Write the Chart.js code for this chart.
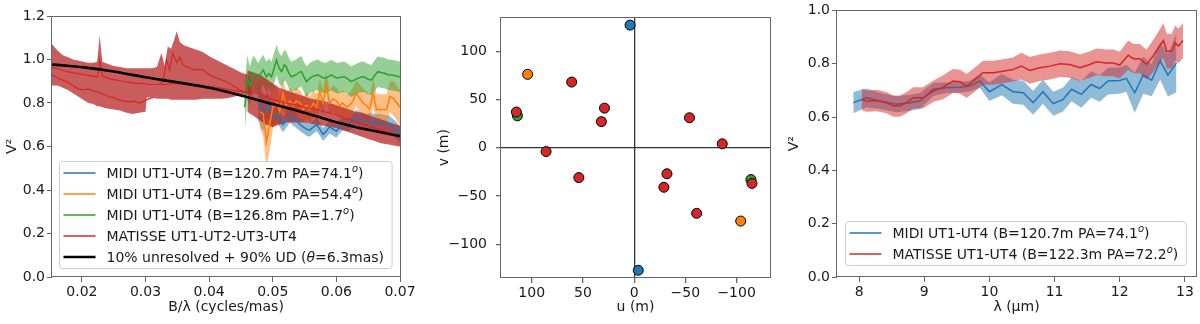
<!DOCTYPE html>
<html>
<head>
<meta charset="utf-8">
<script src="https://cdn.jsdelivr.net/npm/chart.js@4.4.0/dist/chart.umd.min.js"></script>
<style>
  html, body { margin: 0; padding: 0; background: #fff; }
  body { width: 1200px; height: 324px; position: relative; overflow: hidden; }
  .panel { position: absolute; top: 0; height: 324px; }
</style>
</head>
<body>
<div class="panel" style="left:0;width:420px"><canvas id="c1"></canvas></div>
<div class="panel" style="left:432px;width:344px"><canvas id="c2"></canvas></div>
<div class="panel" style="left:782px;width:418px"><canvas id="c3"></canvas></div>
<script>
// ---- panel 1 : V2 vs spatial frequency (cycles/mas) ----
const p1Ticks = [0.02, 0.03, 0.04, 0.05, 0.06, 0.07];
const p1YTicks = [0, 0.2, 0.4, 0.6, 0.8, 1.0, 1.2];

// MIDI UT1-UT4 B=120.7m
const midiAX = [0.0477,0.0481,0.0485,0.0489,0.0493,0.0497,0.0500,0.0504,0.0508,0.0512,0.0516,0.0521,0.0527,0.0532,0.0537,0.0543,0.0548,0.0553,0.0558,0.0564,0.0569,0.0574,0.0579,0.0584,0.0589,0.0595,0.0600,0.0605,0.0610,0.0616,0.0621,0.0626,0.0631,0.0637,0.0642,0.0647,0.0652,0.0660,0.0668,0.0676,0.0684,0.0692,0.0700];
const midiAV = [0.81,0.78,0.75,0.77,0.79,0.76,0.73,0.74,0.75,0.72,0.70,0.72,0.745,0.73,0.72,0.70,0.69,0.68,0.675,0.69,0.70,0.68,0.655,0.67,0.69,0.68,0.67,0.69,0.705,0.70,0.70,0.72,0.735,0.725,0.72,0.715,0.715,0.71,0.71,0.705,0.70,0.68,0.655];
const midiAErr = [0.09,0.09,0.08,0.07,0.06,0.05,0.045,0.04,0.04,0.035,0.035,0.035,0.035,0.035,0.035,0.03,0.03,0.03,0.03,0.03,0.03,0.03,0.03,0.03,0.03,0.03,0.03,0.03,0.03,0.03,0.03,0.03,0.035,0.035,0.035,0.035,0.04,0.04,0.04,0.04,0.04,0.04,0.04];

// MIDI UT1-UT4 B=129.6m
const midiBX = [0.0480,0.0485,0.0490,0.0495,0.0500,0.0506,0.0511,0.0516,0.0521,0.0527,0.0532,0.0537,0.0543,0.0548,0.0553,0.0558,0.0564,0.0569,0.0574,0.0579,0.0584,0.0589,0.0595,0.0600,0.0605,0.0610,0.0616,0.0621,0.0626,0.0631,0.0637,0.0642,0.0647,0.0652,0.0658,0.0663,0.0668,0.0673,0.0679,0.0684,0.0690,0.0695,0.0700];
const midiBV = [0.76,0.75,0.62,0.70,0.78,0.80,0.76,0.845,0.79,0.81,0.79,0.81,0.80,0.77,0.79,0.77,0.80,0.78,0.85,0.80,0.885,0.80,0.82,0.81,0.79,0.80,0.78,0.79,0.81,0.845,0.82,0.80,0.79,0.77,0.845,0.77,0.77,0.77,0.77,0.83,0.82,0.80,0.78];
const midiBErr = [0.08,0.10,0.12,0.12,0.10,0.08,0.07,0.07,0.06,0.06,0.06,0.06,0.06,0.06,0.06,0.06,0.06,0.06,0.06,0.06,0.06,0.06,0.06,0.06,0.06,0.06,0.06,0.06,0.06,0.06,0.065,0.065,0.065,0.065,0.065,0.07,0.07,0.07,0.07,0.07,0.08,0.08,0.08];

// MIDI UT1-UT4 B=126.8m
const midiCX = [0.0456,0.0460,0.0464,0.0469,0.0473,0.0477,0.0481,0.0485,0.0490,0.0494,0.0498,0.0502,0.0506,0.0510,0.0514,0.0518,0.0521,0.0525,0.0529,0.0533,0.0537,0.0541,0.0545,0.0549,0.0553,0.0557,0.0561,0.0566,0.0571,0.0576,0.0582,0.0587,0.0592,0.0597,0.0602,0.0608,0.0613,0.0618,0.0623,0.0628,0.0634,0.0639,0.0644,0.0649,0.0655,0.0660,0.0665,0.0670,0.0676,0.0681,0.0686,0.0693,0.0700];
const midiCV = [0.78,0.92,0.875,0.937,0.93,0.914,0.935,0.952,0.92,0.935,0.92,0.96,0.998,0.96,0.945,0.975,0.968,0.94,0.92,0.925,0.93,0.94,0.945,0.92,0.898,0.91,0.92,0.925,0.93,0.92,0.914,0.92,0.929,0.92,0.914,0.92,0.92,0.91,0.898,0.905,0.914,0.92,0.92,0.91,0.905,0.925,0.944,0.94,0.937,0.93,0.929,0.925,0.92];
const midiCErr = [0.11,0.1,0.09,0.08,0.075,0.07,0.07,0.07,0.07,0.07,0.07,0.07,0.07,0.07,0.07,0.07,0.07,0.07,0.07,0.07,0.07,0.07,0.07,0.07,0.07,0.07,0.07,0.07,0.07,0.07,0.07,0.07,0.07,0.07,0.07,0.07,0.07,0.07,0.07,0.07,0.07,0.07,0.07,0.07,0.07,0.07,0.07,0.07,0.07,0.07,0.07,0.07,0.07];

// MATISSE envelope (low frequencies)
const matEnvX = [0.0153,0.0162,0.0170,0.0178,0.0186,0.0194,0.0202,0.0210,0.0218,0.0224,0.0228,0.0232,0.0240,0.0250,0.0260,0.0270,0.0280,0.0290,0.0300,0.0302,0.0310,0.0318,0.0325,0.0330,0.0335,0.0340,0.0345,0.0349,0.0354,0.0360,0.0370,0.0380,0.0390,0.0400,0.0410,0.0420,0.0430,0.0440,0.0450,0.0460,0.0466];
const matEnvHi = [1.07,1.04,1.02,1.01,1.0,0.995,0.99,0.985,0.985,0.99,1.11,0.99,0.98,0.97,0.965,0.96,0.96,0.96,0.96,0.96,0.96,0.965,1.03,0.97,1.06,1.05,1.09,1.13,1.08,1.065,1.055,1.045,1.035,1.015,1.0,0.985,0.97,0.955,0.94,0.93,0.90];
const matEnvLo = [0.88,0.88,0.87,0.86,0.845,0.83,0.815,0.80,0.795,0.785,0.785,0.78,0.775,0.77,0.765,0.755,0.75,0.755,0.76,0.825,0.825,0.82,0.82,0.82,0.82,0.815,0.815,0.815,0.815,0.815,0.815,0.815,0.82,0.82,0.82,0.82,0.823,0.83,0.835,0.84,0.84];

// MATISSE lines
const matLowX = [0.0153,0.0162,0.0170,0.0178,0.0186,0.0194,0.0202,0.0210,0.0218,0.0226,0.0234,0.0242,0.0250,0.0258,0.0266,0.0274,0.0282,0.0290,0.0298,0.0306,0.0312];
const matLowV = [0.93,0.915,0.905,0.895,0.88,0.865,0.86,0.865,0.855,0.85,0.84,0.83,0.825,0.815,0.81,0.805,0.81,0.80,0.81,0.82,0.825];
const matMidX = [0.0153,0.0165,0.0175,0.0185,0.0195,0.0205,0.0215,0.0225,0.0228,0.0232,0.0245,0.0255,0.0265,0.0275,0.0285,0.0295,0.0305,0.0315,0.0325,0.0335,0.0345,0.0355,0.0365,0.0375,0.0385,0.0395,0.0405,0.0415,0.0425,0.0435,0.0445,0.0455,0.0466];
const matMidV = [0.965,0.955,0.945,0.94,0.935,0.93,0.925,0.92,1.0,0.925,0.91,0.905,0.90,0.895,0.89,0.89,0.885,0.885,0.885,0.885,0.89,0.885,0.885,0.88,0.88,0.875,0.875,0.87,0.865,0.86,0.855,0.85,0.845];
const matUpX = [0.0322,0.0328,0.0333,0.0338,0.0343,0.0349,0.0354,0.0359,0.0364,0.0370,0.0375,0.0382,0.0390,0.0398,0.0406,0.0416,0.0427,0.0437,0.0448,0.0458,0.0466];
const matUpV = [0.89,0.90,0.998,0.952,1.03,0.984,1.013,0.975,0.967,0.96,0.952,0.955,0.952,0.935,0.921,0.91,0.898,0.88,0.86,0.85,0.84];

// MATISSE long baselines
const matHiX = [0.0460,0.0470,0.0480,0.0490,0.0500,0.0510,0.0520,0.0530,0.0540,0.0550,0.0560,0.0570,0.0580,0.0590,0.0600,0.0610,0.0620,0.0630,0.0640,0.0650,0.0660,0.0670,0.0680,0.0690,0.0700];
const matHiV = [0.86,0.85,0.84,0.83,0.815,0.81,0.80,0.795,0.79,0.78,0.775,0.77,0.76,0.755,0.745,0.735,0.725,0.715,0.705,0.695,0.685,0.675,0.665,0.655,0.645];
const matHiUp = [0.95,0.94,0.93,0.91,0.89,0.87,0.86,0.85,0.84,0.83,0.82,0.815,0.81,0.80,0.79,0.78,0.77,0.76,0.755,0.745,0.735,0.725,0.715,0.705,0.695];
const matHiLo = [0.76,0.74,0.72,0.70,0.69,0.70,0.71,0.71,0.71,0.71,0.705,0.70,0.695,0.69,0.685,0.675,0.665,0.655,0.645,0.635,0.625,0.615,0.61,0.605,0.60];

// 10% unresolved + 90% UD model
const modelX = [0.0153,0.0175,0.02,0.025,0.03,0.035,0.04,0.045,0.05,0.055,0.06,0.065,0.07];
const modelV = [0.977,0.972,0.965,0.945,0.918,0.895,0.87,0.835,0.795,0.755,0.712,0.677,0.648];

// ---- panel 2 : uv coverage ----
const uvTicks = [-100, -50, 0, 50, 100];
const uvBlueU = [4, -4];
const uvBlueV = [127, -127];
const uvOrangeU = [104, -104];
const uvOrangeV = [76, -76];
const uvGreenU = [114, -114];
const uvGreenV = [33, -33];
const uvRedU = [115, 86, 54, 61, 29, 32, -54, -86, -32, -29, -61, -115];
const uvRedV = [37, -4, -31, 68, 41, 27, 31, 4, -27, -41, -68, -37];

// ---- panel 3 : V2 vs wavelength ----
const p3Ticks = [8, 9, 10, 11, 12, 13];
const p3YTicks = [0, 0.2, 0.4, 0.6, 0.8, 1.0];
const lamMidiX = [7.91,8.11,8.32,8.57,8.78,8.93,9.14,9.34,9.55,9.70,9.85,10.00,10.19,10.36,10.52,10.67,10.82,10.98,11.13,11.26,11.41,11.56,11.69,11.82,12.00,12.10,12.23,12.36,12.49,12.62,12.74,12.87];
const lamMidiV = [0.654,0.672,0.66,0.648,0.654,0.66,0.704,0.71,0.712,0.716,0.735,0.695,0.722,0.695,0.691,0.654,0.695,0.65,0.666,0.704,0.685,0.722,0.707,0.735,0.737,0.745,0.691,0.757,0.738,0.81,0.757,0.803];
const lamMidiErr = [0.04,0.035,0.03,0.03,0.03,0.03,0.025,0.02,0.02,0.02,0.025,0.035,0.04,0.045,0.045,0.045,0.045,0.045,0.045,0.045,0.05,0.05,0.05,0.05,0.05,0.05,0.075,0.07,0.06,0.07,0.08,0.11];
const lamMatX = [8.04,8.11,8.27,8.42,8.52,8.62,8.73,8.83,8.98,9.14,9.29,9.44,9.55,9.65,9.75,9.90,10.06,10.21,10.36,10.49,10.62,10.77,10.93,11.08,11.23,11.39,11.54,11.64,11.80,11.90,12.00,12.13,12.21,12.31,12.41,12.51,12.59,12.67,12.72,12.80,12.85,12.90,12.97];
const lamMatV = [0.666,0.66,0.662,0.654,0.641,0.641,0.654,0.672,0.672,0.697,0.712,0.735,0.732,0.716,0.735,0.766,0.766,0.772,0.778,0.791,0.775,0.785,0.791,0.80,0.797,0.785,0.797,0.807,0.803,0.803,0.795,0.832,0.819,0.819,0.797,0.828,0.859,0.887,0.847,0.847,0.878,0.866,0.887];
const lamMatErr = [0.04,0.04,0.04,0.04,0.04,0.04,0.04,0.04,0.04,0.04,0.045,0.045,0.045,0.045,0.045,0.045,0.045,0.045,0.045,0.05,0.05,0.05,0.05,0.05,0.05,0.05,0.05,0.05,0.05,0.05,0.05,0.055,0.055,0.055,0.055,0.06,0.06,0.065,0.065,0.065,0.065,0.065,0.065];

// colours (matplotlib tab10)
const C_BLUE = "#1f77b4", C_ORANGE = "#ff7f0e", C_GREEN = "#2ca02c", C_RED = "#d62728";

Chart.defaults.font.family = '"DejaVu Sans", sans-serif';
Chart.defaults.font.size = 14;
Chart.defaults.color = "#1a1a1a";

// helpers
const pts = (xs, ys) => xs.map((x, i) => ({ x: x, y: ys[i] }));
const plus = (ys, e) => ys.map((y, i) => y + e[i]);
const minus = (ys, e) => ys.map((y, i) => y - e[i]);

function band(xs, lo, hi, color, order) {
  return [
    { data: pts(xs, hi), borderWidth: 0, borderColor: "transparent", pointRadius: 0, fill: false, order: order },
    { data: pts(xs, lo), borderWidth: 0, borderColor: "transparent", pointRadius: 0, fill: "-1", backgroundColor: color, order: order }
  ];
}
function line(xs, ys, color, width, order) {
  return { data: pts(xs, ys), borderColor: color, borderWidth: width, pointRadius: 0, fill: false, order: order };
}

// full frame round the plot
const frame = {
  id: "frame",
  afterDraw(chart) {
    const a = chart.chartArea, ctx = chart.ctx;
    ctx.save();
    ctx.strokeStyle = "#666";
    ctx.lineWidth = 1;
    ctx.strokeRect(Math.round(a.left) - 0.5, Math.round(a.top) + 0.5, Math.round(a.right - a.left) + 1, Math.round(a.bottom - a.top) - 1);
    ctx.restore();
  }
};

// legend inside the plot, lower left; {x} = superscript, [x] = italic
function drawParts(ctx, label, x, y, measureOnly) {
  const parts = label.split(/(\{[^}]*\}|\[[^\]]*\])/).filter(s => s.length);
  let w = 0;
  parts.forEach(p => {
    let txt = p, font = '14px "DejaVu Sans"', dy = 0;
    if (p[0] === "{") { txt = p.slice(1, -1); font = 'italic 10px "DejaVu Sans"'; dy = -5; }
    else if (p[0] === "[") { txt = p.slice(1, -1); font = 'italic 14px "DejaVu Sans"'; }
    ctx.font = font;
    if (!measureOnly) ctx.fillText(txt, x + w, y + dy);
    w += ctx.measureText(txt).width;
  });
  return w;
}
const boxLegend = {
  id: "boxLegend",
  afterDraw(chart, args, opts) {
    if (!opts.items) return;
    const ctx = chart.ctx, a = chart.chartArea;
    ctx.save();
    const tw = Math.max(...opts.items.map(it => drawParts(ctx, it.text, 0, 0, true)));
    const w = tw + 47 + 8, h = opts.items.length * 21 + 2;
    const x = Math.round(a.left + opts.dx) + 0.5, y = Math.round(a.bottom - opts.dy - h) + 0.5;
    ctx.beginPath();
    ctx.roundRect(x, y, w, h, 3);
    ctx.fillStyle = "rgba(255,255,255,0.8)";
    ctx.fill();
    ctx.strokeStyle = "#cccccc";
    ctx.lineWidth = 1;
    ctx.stroke();
    ctx.textBaseline = "middle";
    opts.items.forEach((it, i) => {
      const cy = y + 11.5 + i * 21;
      ctx.beginPath();
      ctx.strokeStyle = it.color;
      ctx.lineWidth = it.width;
      ctx.moveTo(x + 4, cy);
      ctx.lineTo(x + 36, cy);
      ctx.stroke();
      ctx.fillStyle = "#1a1a1a";
      drawParts(ctx, it.text, x + 47, cy + 1, false);
    });
    ctx.restore();
  }
};

function axis(min, max, tickVals, fmt, extra) {
  return Object.assign({
    type: "linear", min: min, max: max,
    afterBuildTicks: s => { s.ticks = tickVals.map(v => ({ value: v })); },
    ticks: { callback: fmt, padding: 2, color: "#1a1a1a", maxRotation: 0, autoSkip: false },
    grid: { drawOnChartArea: false, drawTicks: true, tickLength: 5, tickColor: "#666" },
    border: { display: false }
  }, extra);
}
const baseOpts = {
  responsive: true, maintainAspectRatio: false, animation: false,
  events: [],
  plugins: { legend: { display: false }, tooltip: { enabled: false } }
};

// ---------- chart 1 ----------
const ds1 = [].concat(
  band(midiAX, minus(midiAV, midiAErr), plus(midiAV, midiAErr), "rgba(31,119,180,0.5)", 100),
  band(midiBX, minus(midiBV, midiBErr), plus(midiBV, midiBErr), "rgba(255,127,14,0.5)", 90),
  band(midiCX, minus(midiCV, midiCErr), plus(midiCV, midiCErr), "rgba(44,160,44,0.5)", 80),
  band(matEnvX, matEnvLo, matEnvHi, "rgba(180,30,30,0.72)", 70),
  band(matHiX, matHiLo, matHiUp, "rgba(180,30,30,0.72)", 70),
  [
    line(midiAX, midiAV, C_BLUE, 1.5, 50),
    line(midiBX, midiBV, C_ORANGE, 1.5, 49),
    line(midiCX, midiCV, C_GREEN, 1.5, 48),
    line(matLowX, matLowV, C_RED, 1.2, 40),
    line(matMidX, matMidV, C_RED, 1.2, 40),
    line(matUpX, matUpV, C_RED, 1.2, 40),
    line(matHiX, matHiV, C_RED, 1.2, 40),
    Object.assign(line(modelX, modelV, "#000", 2.6, 0), { cubicInterpolationMode: "monotone" })
  ]
);

new Chart(document.getElementById("c1"), {
  type: "line",
  data: { datasets: ds1 },
  options: Object.assign({}, baseOpts, {
    layout: { padding: { top: 16, right: 20, bottom: 4, left: 0 } },
    scales: {
      x: axis(0.0153, 0.07, p1Ticks, v => v.toFixed(2), {
        afterFit: s => { s.height = 43; },
        title: { display: true, text: "B/λ (cycles/mas)", padding: { top: 0, bottom: 4 } }
      }),
      y: axis(0, 1.2, p1YTicks, v => v.toFixed(1), {
        afterFit: s => { s.width = 52; },
        title: { display: true, text: "V²", padding: { top: 4, bottom: 0 } }
      })
    },
    plugins: Object.assign({}, baseOpts.plugins, {
      boxLegend: {
        dx: 7, dy: 9,
        items: [
          { text: "MIDI UT1-UT4 (B=120.7m PA=74.1{o})", color: C_BLUE, width: 1.5 },
          { text: "MIDI UT1-UT4 (B=129.6m PA=54.4{o})", color: C_ORANGE, width: 1.5 },
          { text: "MIDI UT1-UT4 (B=126.8m PA=1.7{o})", color: C_GREEN, width: 1.5 },
          { text: "MATISSE UT1-UT2-UT3-UT4", color: C_RED, width: 1.5 },
          { text: "10% unresolved + 90% UD ([θ]=6.3mas)", color: "#000", width: 2.6 }
        ]
      }
    })
  }),
  plugins: [frame, boxLegend]
});

// ---------- chart 2 ----------
const dot = (us, vs, color) => ({
  data: pts(us, vs), backgroundColor: color, borderColor: "#000", borderWidth: 1, pointRadius: 5
});
const uvFmt = v => String(v).replace("-", "\u2212");
new Chart(document.getElementById("c2"), {
  type: "scatter",
  data: {
    datasets: [
      dot(uvRedU, uvRedV, C_RED),
      dot(uvGreenU, uvGreenV, C_GREEN),
      dot(uvOrangeU, uvOrangeV, C_ORANGE),
      dot(uvBlueU, uvBlueV, C_BLUE)
    ]
  },
  options: Object.assign({}, baseOpts, {
    layout: { padding: { top: 9, right: 5, bottom: 4, left: 0 } },
    scales: {
      x: axis(-132.6, 130, uvTicks, uvFmt, {
        reverse: true,
        afterFit: s => { s.height = 42; },
        grid: { drawOnChartArea: true, drawTicks: true, tickLength: 5, tickColor: "#666", lineWidth: 1.3,
                color: c => (c.tick && c.tick.value === 0 ? "#333" : "rgba(0,0,0,0)") },
        title: { display: true, text: "u (m)", padding: { top: 0, bottom: 4 } }
      }),
      y: axis(-135, 135, uvTicks, uvFmt, {
        afterFit: s => { s.width = 69; },
        ticks: { callback: uvFmt, padding: 9, color: "#1a1a1a" },
        grid: { drawOnChartArea: true, drawTicks: true, tickLength: 5, tickColor: "#666", lineWidth: 1.3,
                color: c => (c.tick && c.tick.value === 0 ? "#333" : "rgba(0,0,0,0)") },
        title: { display: true, text: "v (m)", padding: { top: 4, bottom: 0 } }
      })
    }
  }),
  plugins: [frame]
});

// ---------- chart 3 ----------
const ds3 = [].concat(
  band(lamMidiX, minus(lamMidiV, lamMidiErr), plus(lamMidiV, lamMidiErr), "rgba(31,119,180,0.5)", 100),
  [line(lamMidiX, lamMidiV, C_BLUE, 1.5, 90)],
  band(lamMatX, minus(lamMatV, lamMatErr), plus(lamMatV, lamMatErr), "rgba(214,39,40,0.5)", 80),
  [line(lamMatX, lamMatV, C_RED, 1.5, 70)]
);
new Chart(document.getElementById("c3"), {
  type: "line",
  data: { datasets: ds3 },
  options: Object.assign({}, baseOpts, {
    layout: { padding: { top: 9, right: 4, bottom: 4, left: 0 } },
    scales: {
      x: axis(7.66, 13.17, p3Ticks, v => String(v), {
        afterFit: s => { s.height = 43; },
        title: { display: true, text: "λ (μm)", padding: { top: 0, bottom: 4 } }
      }),
      y: axis(0, 1.0, p3YTicks, v => v.toFixed(1), {
        afterFit: s => { s.width = 55; },
        title: { display: true, text: "V²", padding: { top: 4, bottom: 0 } }
      })
    },
    plugins: Object.assign({}, baseOpts.plugins, {
      boxLegend: {
        dx: 8, dy: 12,
        items: [
          { text: "MIDI UT1-UT4 (B=120.7m PA=74.1{o})", color: C_BLUE, width: 1.5 },
          { text: "MATISSE UT1-UT4 (B=122.3m PA=72.2{o})", color: C_RED, width: 1.5 }
        ]
      }
    })
  }),
  plugins: [frame, boxLegend]
});
</script>
</body>
</html>
